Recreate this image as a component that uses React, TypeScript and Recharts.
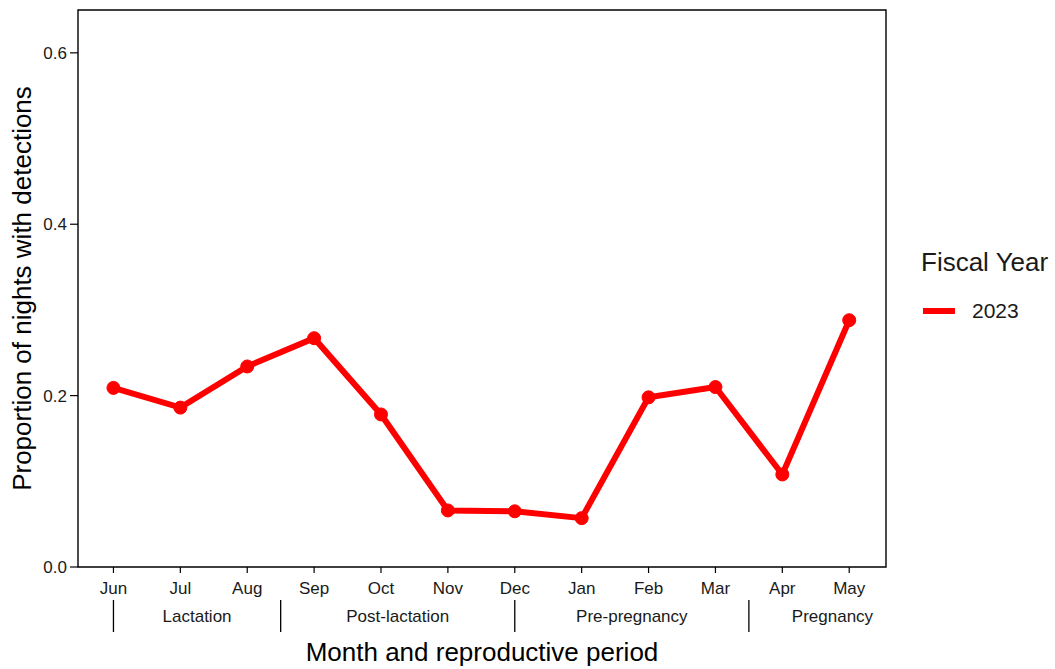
import { Legend, Line, LineChart, ReferenceArea, XAxis, YAxis } from "recharts";

const months = ["Jun", "Jul", "Aug", "Sep", "Oct", "Nov", "Dec", "Jan", "Feb", "Mar", "Apr", "May"];
const proportion = [0.209, 0.186, 0.234, 0.267, 0.178, 0.066, 0.065, 0.057, 0.198, 0.21, 0.108, 0.288];
const periods = ["Lactation", "Post-lactation", "Pre-pregnancy", "Pregnancy"];
// period edges in month-index units (Jun = 0)
const periodEdges = [0, 2.5, 6, 9.5, 12];
const yTicks = [0, 0.2, 0.4, 0.6];
const fiscalYear = "2023";

const RED = "#ff0000";
const FONT = "'Liberation Sans', Arial, sans-serif";

const data = months.map((m, i) => ({ idx: i, month: m, value: proportion[i] }));

const periodCenters = periods.map((_, i) => (periodEdges[i] + periodEdges[i + 1]) / 2);
const periodTicks = [...periodEdges.slice(0, 4), ...periodCenters].sort((a, b) => a - b);

function PeriodTick({ x, y, payload }: any) {
  const v = payload.value;
  const ci = periodCenters.indexOf(v);
  if (ci >= 0) {
    return (
      <text x={x} y={y + 19} textAnchor="middle" dominantBaseline="central" fontSize={17} fill="#1a1a1a" fontFamily={FONT}>
        {periods[ci]}
      </text>
    );
  }
  return <line x1={x} x2={x} y1={y + 3} y2={y + 35} stroke="#000" strokeWidth={1.3} />;
}

function LegendBox() {
  return (
    <div style={{ fontFamily: FONT, color: "#1a1a1a" }}>
      <div style={{ fontSize: 26, lineHeight: "30px" }}>Fiscal Year</div>
      <div style={{ display: "flex", alignItems: "center", marginTop: 22 }}>
        <span style={{ display: "inline-block", width: 32, height: 6, background: RED, marginLeft: 2 }} />
        <span style={{ fontSize: 21, marginLeft: 17 }}>{fiscalYear}</span>
      </div>
    </div>
  );
}

export default function App() {
  return (
    <div style={{ position: "absolute", left: 0, top: 0, background: "#fff" }}>
      <LineChart width={1055} height={669} data={data} margin={{ top: 10, right: 35, left: 0, bottom: 0 }}>
        <XAxis
          xAxisId="month"
          dataKey="idx"
          type="number"
          domain={[-0.53, 11.55]}
          allowDataOverflow
          ticks={months.map((_, i) => i)}
          tickFormatter={(v) => months[v]}
          height={30}
          tickSize={6}
          tickMargin={9}
          axisLine={false}
          tickLine={{ stroke: "#000", strokeWidth: 1.2 }}
          tick={{ fontSize: 17, fill: "#1a1a1a", fontFamily: FONT }}
          interval={0}
        />
        <XAxis
          xAxisId="period"
          dataKey="idx"
          type="number"
          domain={[-0.53, 11.55]}
          allowDataOverflow
          ticks={periodTicks}
          height={72}
          tickSize={0}
          tickMargin={0}
          axisLine={false}
          tickLine={false}
          tick={<PeriodTick />}
          interval={0}
          label={{ value: "Month and reproductive period", position: "insideBottom", offset: 8, fontSize: 26, fill: "#000", fontFamily: FONT }}
        />
        <YAxis
          type="number"
          domain={[0, 0.65]}
          allowDataOverflow
          ticks={yTicks}
          tickFormatter={(v) => v.toFixed(1)}
          width={78}
          tickSize={8}
          tickMargin={3}
          axisLine={false}
          tickLine={{ stroke: "#000", strokeWidth: 1.2 }}
          tick={{ fontSize: 17, fill: "#1a1a1a", fontFamily: FONT }}
          label={{ value: "Proportion of nights with detections", angle: -90, position: "center", dx: -17, fontSize: 26, fill: "#000", fontFamily: FONT }}
        />
        <ReferenceArea xAxisId="month" x1={-0.53} x2={11.55} y1={0} y2={0.65} fill="none" stroke="#000" strokeWidth={1.4} ifOverflow="visible" />
        <Line
          xAxisId="month"
          dataKey="value"
          stroke={RED}
          strokeWidth={6}
          dot={{ r: 6.5, fill: RED, stroke: RED, strokeWidth: 1 }}
          isAnimationActive={false}
        />
        <Legend
          layout="horizontal"
          verticalAlign="middle"
          align="right"
          content={<LegendBox />}
          wrapperStyle={{ position: "absolute", left: 921, top: 247, width: 134, height: 80 }}
        />
      </LineChart>
    </div>
  );
}
